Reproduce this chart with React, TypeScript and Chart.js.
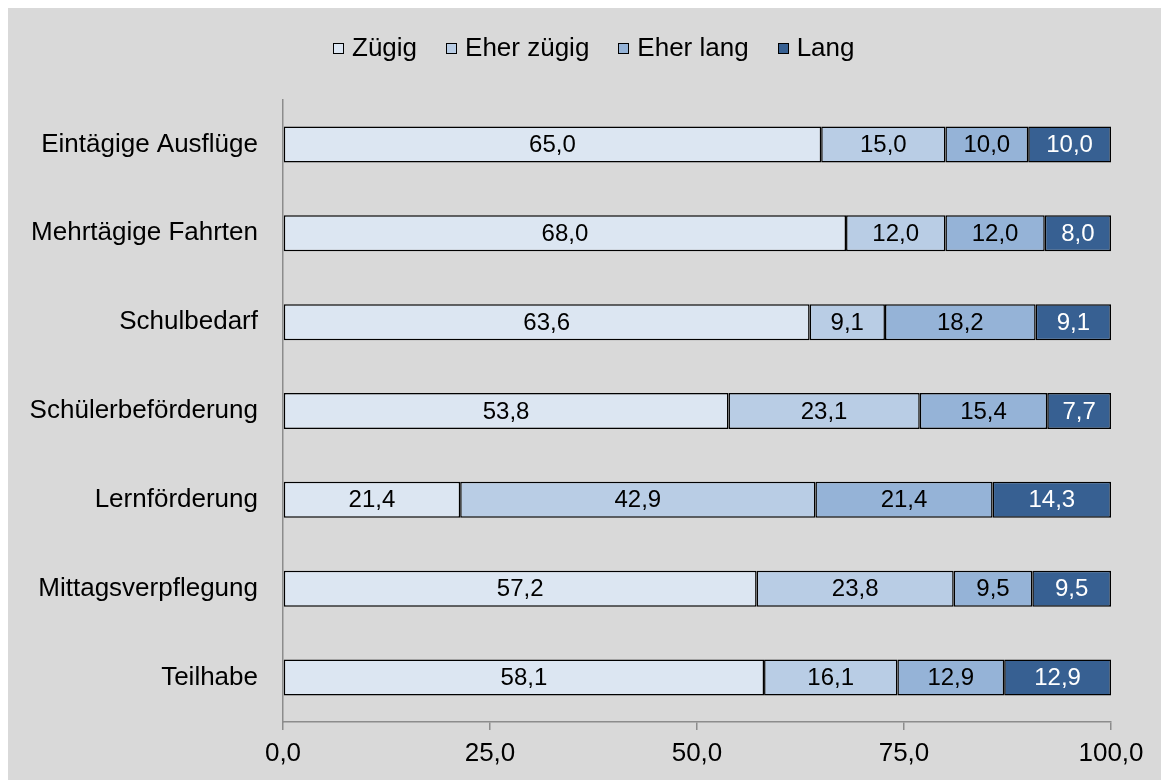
import React, { useEffect, useRef } from "react";
import { Chart, registerables } from "chart.js";

Chart.register(...registerables);

const categories = [
  "Eintägige Ausflüge",
  "Mehrtägige Fahrten",
  "Schulbedarf",
  "Schülerbeförderung",
  "Lernförderung",
  "Mittagsverpflegung",
  "Teilhabe",
];
const seriesNames = ["Zügig", "Eher zügig", "Eher lang", "Lang"];
const zuegig = [65.0, 68.0, 63.6, 53.8, 21.4, 57.2, 58.1];
const eherZuegig = [15.0, 12.0, 9.1, 23.1, 42.9, 23.8, 16.1];
const eherLang = [10.0, 12.0, 18.2, 15.4, 21.4, 9.5, 12.9];
const lang = [10.0, 8.0, 9.1, 7.7, 14.3, 9.5, 12.9];
const xTicks = [0, 25, 50, 75, 100];

const colors = ["#DCE6F2", "#B9CDE5", "#95B3D7", "#376092"];
const labelColors = ["#000000", "#000000", "#000000", "#FFFFFF"];
const FONT = "'Liberation Sans', Arial, sans-serif";

const fmt = (v: number) => v.toFixed(1).replace(".", ",");

const dataLabelPlugin = {
  id: "dataLabels",
  afterDatasetsDraw(chart: any) {
    const ctx = chart.ctx;
    ctx.save();
    ctx.font = `24px ${FONT}`;
    ctx.textAlign = "center";
    ctx.textBaseline = "middle";
    chart.data.datasets.forEach((ds: any, di: number) => {
      const meta = chart.getDatasetMeta(di);
      meta.data.forEach((bar: any, i: number) => {
        const v = ds.data[i];
        const cx = (bar.x + bar.base) / 2;
        ctx.fillStyle = labelColors[di];
        ctx.fillText(fmt(v), cx, bar.y + 1);
      });
    });
    ctx.restore();
  },
};

const customLegend = {
  id: "customLegend",
  afterDraw(chart: any) {
    const ctx = chart.ctx;
    const box = 10;
    const gapText = 9;
    const gapItem = 29;
    const startX = 325;
    const cy = 40;
    ctx.save();
    ctx.font = `26px ${FONT}`;
    ctx.textBaseline = "middle";
    ctx.textAlign = "left";
    let x = startX;
    chart.data.datasets.forEach((ds: any) => {
      const bx = Math.round(x) + 0.5;
      const by = Math.round(cy - box / 2) + 0.5;
      ctx.fillStyle = ds.backgroundColor;
      ctx.fillRect(bx, by, box, box);
      ctx.strokeStyle = "#000000";
      ctx.lineWidth = 1;
      ctx.strokeRect(bx, by, box, box);
      ctx.fillStyle = "#000000";
      const tx = x + box + gapText;
      ctx.fillText(ds.label, tx, cy + 1);
      x = tx + ctx.measureText(ds.label).width + gapItem;
    });
    ctx.restore();
  },
};

export default function App() {
  const ref = useRef<HTMLCanvasElement | null>(null);

  useEffect(() => {
    if (!ref.current) return;
    const series = [zuegig, eherZuegig, eherLang, lang];
    const chart = new Chart(ref.current, {
      type: "bar",
      data: {
        labels: categories,
        datasets: series.map((d, i) => ({
          label: seriesNames[i],
          data: d,
          backgroundColor: colors[i],
          borderColor: "#000000",
          borderWidth: 1.5,
          borderSkipped: false,
          barPercentage: 0.405,
          categoryPercentage: 1,
        })),
      },
      options: {
        indexAxis: "y",
        animation: false,
        responsive: true,
        maintainAspectRatio: false,
        layout: { padding: { top: 92, right: 58, bottom: 0, left: 0 } },
        plugins: {
          tooltip: { enabled: false },
          legend: { display: false },
        },
        scales: {
          x: {
            stacked: true,
            min: 0,
            max: 100,
            afterBuildTicks(scale: any) {
              scale.ticks = xTicks.map((v) => ({ value: v }));
            },
            afterFit(scale: any) {
              scale.height = 58;
            },
            ticks: {
              callback: (v: any) => fmt(Number(v)),
              color: "#000000",
              font: { family: FONT, size: 26 },
              padding: 8,
              maxRotation: 0,
            },
            grid: {
              display: true,
              drawOnChartArea: false,
              drawTicks: true,
              tickLength: 8,
              color: "#8C8C8C",
              lineWidth: 1.5,
            },
            border: { display: true, color: "#8C8C8C", width: 1.5 },
          },
          y: {
            stacked: true,
            afterFit(scale: any) {
              scale.width = 275;
            },
            ticks: {
              color: "#000000",
              font: { family: FONT, size: 26 },
              padding: 25,
            },
            grid: {
              display: true,
              drawOnChartArea: false,
              drawTicks: false,
            },
            border: { display: true, color: "#8C8C8C", width: 1.5 },
          },
        },
      },
      plugins: [dataLabelPlugin, customLegend],
    });
    return () => chart.destroy();
  }, []);

  return (
    <div style={{ width: 1161, height: 772, background: "#D9D9D9", position: "relative" }}>
      <canvas ref={ref} />
    </div>
  );
}
